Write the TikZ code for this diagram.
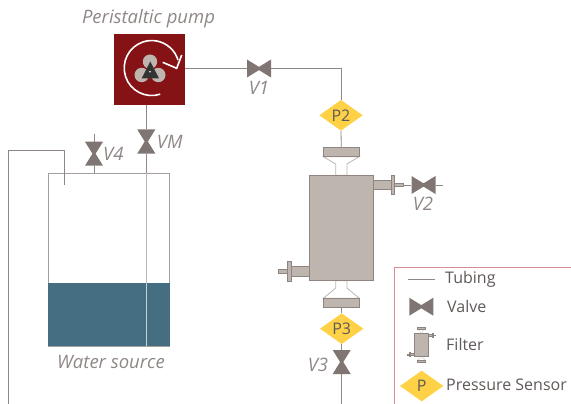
\documentclass[tikz,border=0pt]{standalone}
\usepackage{fontspec}
\setmainfont{Open Sans}
\usetikzlibrary{shapes.geometric,calc}
\definecolor{tube}{HTML}{8F8784}
\definecolor{valvec}{HTML}{7F7673}
\definecolor{filt}{HTML}{BFB5AF}
\definecolor{filtl}{HTML}{8F8580}
\definecolor{labelc}{HTML}{8E8785}
\definecolor{legtext}{HTML}{5F5957}
\definecolor{sensor}{HTML}{FFD147}
\definecolor{pumpc}{HTML}{851316}
\definecolor{water}{HTML}{466E82}
\definecolor{legbox}{HTML}{D88E90}
\tikzset{
  tubing/.style={draw=tube,line width=0.8pt},
  hvalve/.style={rectangle,inner sep=0pt,minimum width=24pt,minimum height=18pt,
    path picture={\fill[valvec] (path picture bounding box.north west)--([yshift=1.6pt]path picture bounding box.center)--(path picture bounding box.north east)--(path picture bounding box.south east)--([yshift=-1.6pt]path picture bounding box.center)--(path picture bounding box.south west)--cycle;}},
  vvalve/.style={rectangle,inner sep=0pt,minimum width=18pt,minimum height=24pt,
    path picture={\fill[valvec] (path picture bounding box.north west)--(path picture bounding box.north east)--([xshift=1.6pt]path picture bounding box.center)--(path picture bounding box.south east)--(path picture bounding box.south west)--([xshift=-1.6pt]path picture bounding box.center)--cycle;}},
  sensornode/.style={diamond,aspect=1.41,fill=sensor,inner sep=0pt,minimum width=43.5pt,minimum height=30.8pt,text=legtext,font=\fontsize{16}{17}\selectfont},
  lab/.style={text=labelc,font=\fontsize{18.5}{20}\selectfont\itshape,inner sep=0pt},
  legt/.style={text=legtext,font=\fontsize{16}{18}\selectfont,inner sep=0pt,anchor=west},
  filtpart/.style={fill=filt,draw=filtl,line width=0.6pt},
  neck/.style={draw=filt,fill=white,line width=0.8pt},
}
% filter drawn around its body centre
\newcommand{\filterdraw}{%
  \filldraw[neck] (-18,-71.3)--(-5.6,-64)--(-5.6,-52.7)--(5.6,-52.7)--(5.6,-64)--(18,-71.3)--cycle;
  \filldraw[neck] (-18,70.3)--(-5.6,60)--(-5.6,52.7)--(5.6,52.7)--(5.6,60)--(18,70.3)--cycle;
  \filldraw[filtpart] (-18,-80.3)rectangle(18,-71.3);
  \filldraw[filtpart] (-18,70.3)rectangle(18,79.7);
  \filldraw[filtpart] (32,-47.3)rectangle(50.4,-38.7);
  \filldraw[filtpart] (53.4,-44.7)rectangle(62,-41.3);
  \filldraw[filtpart] (50.4,-52.7)rectangle(53.4,-33.3);
  \filldraw[filtpart] (-32,38.7)rectangle(-49.6,48);
  \filldraw[filtpart] (-53.6,41.3)rectangle(-62.6,45.3);
  \filldraw[filtpart] (-49.6,33)rectangle(-53.6,53.7);
  \filldraw[filtpart] (-32,-52.7) rectangle (32,52.7);
}
\begin{document}
\begin{tikzpicture}[x=1pt,y=-1pt]
\useasboundingbox (0,0) rectangle (571,404);
% tank
\node[rectangle,draw=tube!80,line width=0.9pt,minimum width=121.5pt,minimum height=172.5pt,inner sep=0pt] (tank) at (108.75,259.75) {};
\fill[water] (48,283) rectangle (169.5,346);
\draw[draw=tube!80,line width=0.9pt] (48,346)--(169.5,346);
% pump
\node[rectangle,fill=pumpc,minimum width=71pt,minimum height=71.5pt,inner sep=0pt] (pump) at (149.5,69.5) {};
\fill[filt] (150,61.7) circle (7.2) (141.7,75) circle (7.2) (158.3,75) circle (7.2);
\fill[black!80] (150.3,61.5)--(141.7,78.3)--(159,78.3)--cycle;
\fill[white] (150,71.7) circle (0.9);
\draw[white,line width=1.6pt] (160.2,94.2) arc[start angle=72,end angle=343,radius=27.5];
\draw[white,line width=1.6pt] (162.7,62.3)--(176.7,68.3)--(181.7,55);
% labels
\node[lab] (lpump) at (148.5,19) {Peristaltic pump};
\node[lab] (lv1) at (259,87.5) {V1};
\node[lab] (lv2) at (423,203.5) {V2};
\node[lab] (lvm) at (169.7,141.5) {VM};
\node[lab] (lv4) at (113.3,154) {V4};
\node[lab] (lv3) at (318,365) {V3};
\node[lab] (lwater) at (111,361.7) {Water source};
% valves
\node[hvalve] (v1) at (259,68.5) {};
\node[hvalve] (v2) at (423.5,185) {};
\node[vvalve] (vm) at (146.3,141.5) {};
\node[vvalve] (v4) at (94,153.7) {};
\node[vvalve] (v3) at (341.7,362) {};
% sensors
\node[sensornode] (p2) at (341,115.3) {P2};
\node[sensornode] (p3) at (341.7,328.7) {P3};
% filter
\begin{scope}[shift={(341.3,228)}]
\coordinate (ftop) at (0,-80.3);
\coordinate (fbot) at (0,79.7);
\coordinate (fr) at (62,-43);
\filterdraw
\end{scope}
% free ends
\coordinate (v2end) at (443,185);
\coordinate (v3end) at (341.7,404);
\coordinate (v4top) at (94,134);
\coordinate (tl1) at (8.5,404);
\coordinate (tl2) at (8.5,150);
\coordinate (tl3) at (64.5,150);
\coordinate (tl4) at (64.5,185);
\coordinate (c1) at (341,68.5);
% connectors
\draw[tubing] (pump.east |- v1.west) -- (v1.west);
\draw[tubing] (v1.east) -- (c1) -- (p2.north);
\draw[tubing] (p2.south) -- (ftop);
\draw[tubing] (fbot) -- (p3.north);
\draw[tubing] (p3.south) -- (v3.north);
\draw[tubing] (v3.south) -- (v3end);
\draw[tubing] (fr) -- (v2.west);
\draw[tubing] (v2.east) -- (v2end);
\draw[tubing] (pump.south -| vm.north) -- (vm.north);
\draw[tubing] (vm.south) -- (vm.south |- tank.north);
\draw[draw=tube!60!white,line width=0.8pt] (vm.south |- tank.north) -- (146.3,283);
\draw[draw=white!70!water,line width=0.8pt] (146.3,283) -- (146.3,346);
\draw[tubing] (v4top) -- (v4.north);
\draw[tubing] (v4.south) -- (v4.south |- tank.north);
\draw[tubing,line join=miter] (tl1) -- (tl2) -- (tl3) -- (tl4);
% legend
\draw[draw=legbox,line width=0.8pt] (394.7,404) -- (394.7,267.3) -- (571,267.3);
\coordinate (lt1) at (407.7,279.5);
\coordinate (lt2) at (435,279.5);
\draw[tubing] (lt1) -- (lt2);
\node[legt] (t1) at (445,279.5) {Tubing};
\node[hvalve] (lvalve) at (421.3,306.7) {};
\node[legt] (t2) at (447,306) {Valve};
\begin{scope}[shift={(421.3,344.7)},scale=0.22,
  filtpart/.style={fill=filt,draw=filtl,line width=0.3pt},neck/.style={draw=filt,fill=white,line width=0.3pt}]
\filterdraw
\end{scope}
\node[legt] (t3) at (446,344) {Filter};
\node[sensornode] (lp) at (421.7,386) {P};
\node[legt] (t4) at (446,385) {Pressure Sensor};
\end{tikzpicture}
\end{document}
